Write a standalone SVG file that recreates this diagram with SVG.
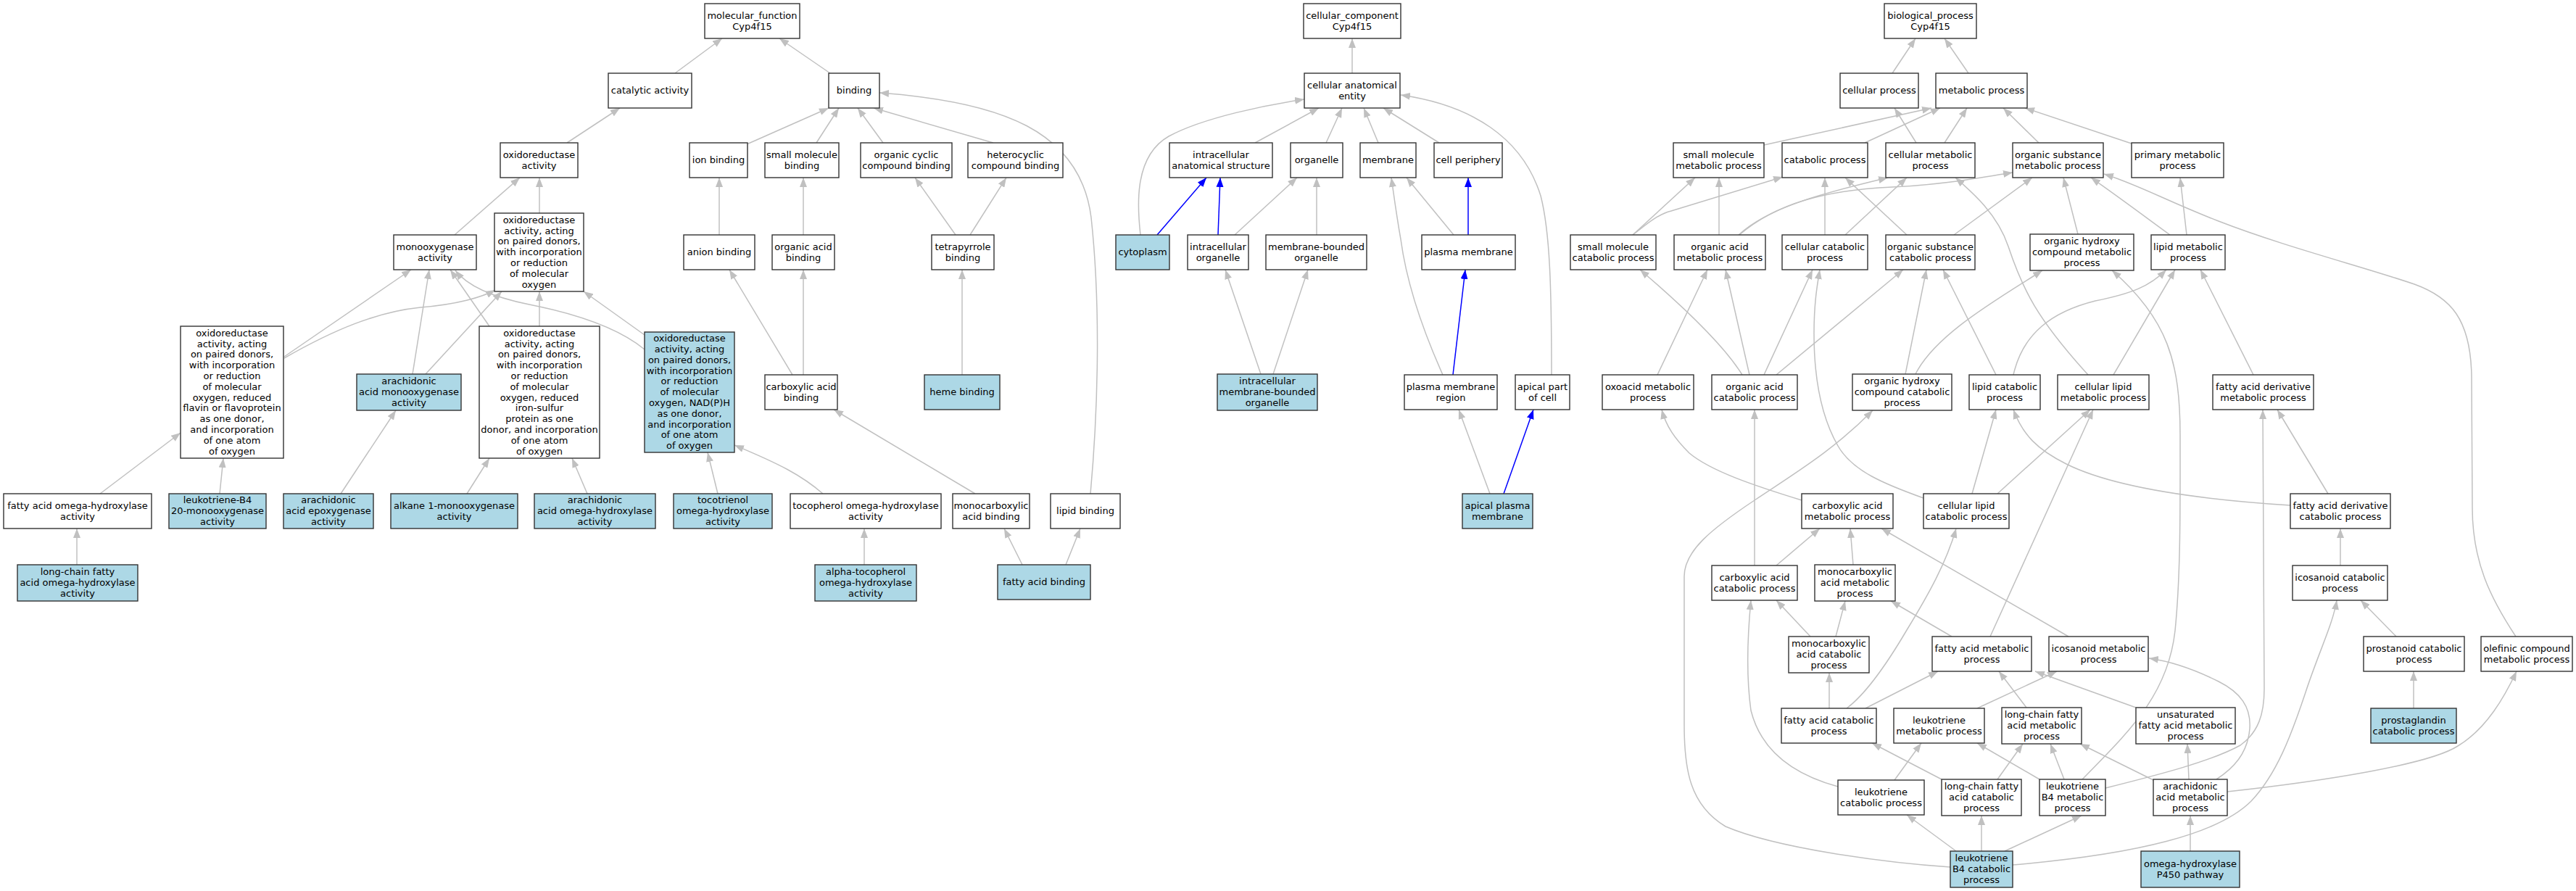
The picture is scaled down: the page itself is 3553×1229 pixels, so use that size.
<svg xmlns="http://www.w3.org/2000/svg" width="3553" height="1229" viewBox="0 0 3553 1229">
<style>
.n rect{fill:#fff;stroke:#333;stroke-width:1.4}
.b rect{fill:#add8e6;stroke:#333;stroke-width:1.4}
text{font-family:"DejaVu Sans",sans-serif;font-size:13px;text-anchor:middle;fill:#000}
.e path{fill:none;stroke:#c0c0c0;stroke-width:1.5;marker-end:url(#ag)}
.e path.bl{stroke:#0000ff;marker-end:url(#ab)}
</style>
<defs>
<marker id="ag" viewBox="0 0 13 10" refX="13" refY="5" markerWidth="13" markerHeight="10" markerUnits="userSpaceOnUse" orient="auto"><path d="M0,0L13,5L0,10z" fill="#c0c0c0"/></marker>
<marker id="ab" viewBox="0 0 13 10" refX="13" refY="5" markerWidth="13" markerHeight="10" markerUnits="userSpaceOnUse" orient="auto"><path d="M0,0L13,5L0,10z" fill="#0000ff"/></marker>
</defs>
<rect width="3553" height="1229" fill="#fff"/>
<g id="edges" class="e">
<path d="M931,101L996,53"/>
<path d="M1145,101L1075,53"/>
<path d="M782,197L855,149"/>
<path d="M1030,199L1143,149"/>
<path d="M1126,197L1157,149"/>
<path d="M1218,197L1183,149"/>
<path d="M1370,197L1205,149"/>
<path d="M1504,681C1515,560 1518,420 1505,300C1490,180 1380,140 1213,128"/>
<path d="M627,324L717,245"/>
<path d="M744,294L744,245"/>
<path d="M992,324L992,245"/>
<path d="M1108,324L1108,245"/>
<path d="M1318,324L1262,245"/>
<path d="M1338,324L1388,245"/>
<path d="M1327,517L1327,372"/>
<path d="M1093,517L1006,372"/>
<path d="M1108,517L1108,372"/>
<path d="M392,492L567,372"/>
<path d="M392,494C460,455 520,430 580,424C630,420 665,410 683,400"/>
<path d="M569,516L592,372"/>
<path d="M587,516L692,402"/>
<path d="M675,450L621,372"/>
<path d="M744,450L744,402"/>
<path d="M889,482C850,450 790,432 730,420C680,410 645,395 628,373"/>
<path d="M889,462L805,402"/>
<path d="M138,681L249,597"/>
<path d="M303,681L308,632"/>
<path d="M470,681L546,566"/>
<path d="M644,681L675,632"/>
<path d="M810,681L789,632"/>
<path d="M990,681L976,624"/>
<path d="M1135,681C1105,655 1075,640 1013,614"/>
<path d="M106,779L106,729"/>
<path d="M1192,779L1192,729"/>
<path d="M1345,681L1150,565"/>
<path d="M1410,779L1385,729"/>
<path d="M1470,779L1490,729"/>
<path d="M1865,101L1865,53"/>
<path d="M1731,197L1819,149"/>
<path d="M1829,197L1851,149"/>
<path d="M1901,197L1881,149"/>
<path d="M1985,197L1908,149"/>
<path d="M1573,324C1568,280 1565,215 1612,188C1660,162 1750,144 1799,137"/>
<path class="bl" d="M1596,324L1664,245"/>
<path class="bl" d="M1680,324L1683,245"/>
<path d="M1703,324L1789,245"/>
<path d="M1816,324L1816,245"/>
<path d="M2005,324L1940,245"/>
<path class="bl" d="M2025,324L2025,245"/>
<path d="M1739,516L1690,372"/>
<path d="M1756,516L1804,372"/>
<path d="M1990,517C1960,450 1940,390 1932,330C1925,290 1922,265 1919,245"/>
<path class="bl" d="M2004,517L2021,372"/>
<path d="M2055,681L2012,565"/>
<path class="bl" d="M2074,681L2115,565"/>
<path d="M2140,517C2140,400 2138,320 2125,270C2100,190 2030,145 1932,131"/>
<path d="M2610,101L2642,53"/>
<path d="M2715,101L2682,53"/>
<path d="M2643,197L2613,149"/>
<path d="M2433,200L2664,149"/>
<path d="M2572,197L2676,149"/>
<path d="M2682,197L2713,149"/>
<path d="M2812,197L2763,149"/>
<path d="M2940,198L2793,149"/>
<path d="M2252,324L2338,245"/>
<path d="M2371,324L2371,245"/>
<path d="M2252,324C2268,312 2285,296 2305,291L2459,244"/>
<path d="M2517,324L2517,245"/>
<path d="M2630,324L2545,245"/>
<path d="M2398,324C2440,285 2520,265 2604,245"/>
<path d="M2399,324C2450,280 2520,262 2610,258C2680,255 2730,245 2776,238"/>
<path d="M2545,324L2630,245"/>
<path d="M2880,517C2810,440 2790,400 2770,340C2755,295 2720,265 2697,245"/>
<path d="M2695,324L2803,245"/>
<path d="M2866,323L2846,245"/>
<path d="M2993,324C2960,300 2920,270 2884,245"/>
<path d="M3470,878C3435,825 3410,775 3410,700L3409,520C3408,440 3380,410 3330,392C3260,368 3150,340 3060,305C2990,278 2950,255 2902,240"/>
<path d="M3016,324L3007,245"/>
<path d="M2403,517C2380,480 2330,430 2262,372"/>
<path d="M2286,517L2355,372"/>
<path d="M2413,517L2380,372"/>
<path d="M2433,517L2500,372"/>
<path d="M2653,687C2600,668 2555,650 2535,615C2512,575 2502,520 2502,460C2502,420 2506,395 2510,372"/>
<path d="M2450,517L2625,372"/>
<path d="M2628,516L2657,372"/>
<path d="M2753,517L2680,372"/>
<path d="M2642,516C2670,460 2760,410 2817,373"/>
<path d="M2872,1075C2935,1010 2990,960 3000,870C3008,790 3007,700 3007,600C3007,500 2990,440 2913,373"/>
<path d="M2777,517C2790,460 2830,430 2890,415C2940,405 2965,395 2988,372"/>
<path d="M2915,517L3000,372"/>
<path d="M3108,517L3035,372"/>
<path d="M2485,690C2420,670 2360,650 2330,625C2310,605 2298,588 2292,565"/>
<path d="M2420,780L2420,565"/>
<path d="M2690,1196C2600,1190 2450,1170 2380,1140C2330,1110 2323,1060 2323,1000L2323,795C2323,760 2360,730 2420,690C2480,650 2530,620 2583,566"/>
<path d="M2720,681L2753,565"/>
<path d="M3159,697C3050,690 2920,675 2850,640C2810,620 2790,600 2777,565"/>
<path d="M2755,681L2883,565"/>
<path d="M2745,878L2887,565"/>
<path d="M2904,1087C2980,1068 3050,1050 3090,1028C3115,1010 3123,985 3123,950L3121,565"/>
<path d="M3211,681L3141,565"/>
<path d="M2450,780L2510,729"/>
<path d="M2556,779L2552,729"/>
<path d="M2853,878L2595,729"/>
<path d="M2547,977C2570,960 2600,920 2630,869C2660,820 2685,775 2698,729"/>
<path d="M3228,780L3228,729"/>
<path d="M2497,878L2450,828"/>
<path d="M2535,1085C2480,1070 2430,1040 2415,980C2408,930 2410,880 2415,828"/>
<path d="M2532,878L2545,829"/>
<path d="M2692,878L2608,829"/>
<path d="M3305,878L3256,828"/>
<path d="M2776,1193C2950,1178 3060,1150 3105,1105C3140,1068 3160,1015 3180,955C3198,900 3218,860 3223,828"/>
<path d="M2523,977L2523,928"/>
<path d="M2573,977L2673,926"/>
<path d="M2795,976L2757,926"/>
<path d="M2946,976L2807,926"/>
<path d="M2727,977L2837,926"/>
<path d="M3057,1075C3080,1060 3100,1040 3103,1005C3105,975 3090,955 3060,940C3030,925 3000,913 2964,908"/>
<path d="M3329,977L3329,926"/>
<path d="M3072,1092C3200,1078 3350,1055 3390,1029C3430,1005 3455,960 3471,926"/>
<path d="M2678,1075L2582,1025"/>
<path d="M2613,1076L2650,1025"/>
<path d="M2813,1075L2727,1025"/>
<path d="M2755,1075L2790,1026"/>
<path d="M2847,1075L2828,1026"/>
<path d="M2970,1076L2869,1026"/>
<path d="M3019,1075L3017,1026"/>
<path d="M2698,1174L2630,1124"/>
<path d="M2733,1174L2733,1125"/>
<path d="M2765,1174L2871,1125"/>
<path d="M3021,1174L3021,1125"/>
</g>
<g id="mf" class="n"><rect x="972" y="5" width="131" height="48"/><text x="1037.5" y="25.8"><tspan x="1037.5">molecular_function</tspan><tspan x="1037.5" dy="14.8">Cyp4f15</tspan></text></g>
<g id="ca" class="n"><rect x="839" y="101" width="115" height="48"/><text x="896.5" y="129.2">catalytic activity</text></g>
<g id="bind" class="n"><rect x="1143" y="101" width="70" height="48"/><text x="1178" y="129.2">binding</text></g>
<g id="oa" class="n"><rect x="690" y="197" width="107" height="48"/><text x="743.5" y="217.8"><tspan x="743.5">oxidoreductase</tspan><tspan x="743.5" dy="14.8">activity</tspan></text></g>
<g id="ion" class="n"><rect x="951" y="197" width="80" height="48"/><text x="991" y="225.2">ion binding</text></g>
<g id="smb" class="n"><rect x="1055" y="197" width="102" height="48"/><text x="1106" y="217.8"><tspan x="1106">small molecule</tspan><tspan x="1106" dy="14.8">binding</tspan></text></g>
<g id="occb" class="n"><rect x="1187" y="197" width="126" height="48"/><text x="1250" y="217.8"><tspan x="1250">organic cyclic</tspan><tspan x="1250" dy="14.8">compound binding</tspan></text></g>
<g id="hcb" class="n"><rect x="1335" y="197" width="131" height="48"/><text x="1400.5" y="217.8"><tspan x="1400.5">heterocyclic</tspan><tspan x="1400.5" dy="14.8">compound binding</tspan></text></g>
<g id="mo" class="n"><rect x="543" y="324" width="114" height="48"/><text x="600" y="344.8"><tspan x="600">monooxygenase</tspan><tspan x="600" dy="14.8">activity</tspan></text></g>
<g id="pd" class="n"><rect x="682" y="294" width="123" height="108"/><text x="743.5" y="307.8"><tspan x="743.5">oxidoreductase</tspan><tspan x="743.5" dy="14.8">activity, acting</tspan><tspan x="743.5" dy="14.8">on paired donors,</tspan><tspan x="743.5" dy="14.8">with incorporation</tspan><tspan x="743.5" dy="14.8">or reduction</tspan><tspan x="743.5" dy="14.8">of molecular</tspan><tspan x="743.5" dy="14.8">oxygen</tspan></text></g>
<g id="anion" class="n"><rect x="943" y="324" width="98" height="48"/><text x="992" y="352.2">anion binding</text></g>
<g id="oab" class="n"><rect x="1065" y="324" width="86" height="48"/><text x="1108" y="344.8"><tspan x="1108">organic acid</tspan><tspan x="1108" dy="14.8">binding</tspan></text></g>
<g id="tetra" class="n"><rect x="1285" y="324" width="86" height="48"/><text x="1328" y="344.8"><tspan x="1328">tetrapyrrole</tspan><tspan x="1328" dy="14.8">binding</tspan></text></g>
<g id="flavin" class="n"><rect x="249" y="450" width="142" height="182"/><text x="320" y="463.8"><tspan x="320">oxidoreductase</tspan><tspan x="320" dy="14.8">activity, acting</tspan><tspan x="320" dy="14.8">on paired donors,</tspan><tspan x="320" dy="14.8">with incorporation</tspan><tspan x="320" dy="14.8">or reduction</tspan><tspan x="320" dy="14.8">of molecular</tspan><tspan x="320" dy="14.8">oxygen, reduced</tspan><tspan x="320" dy="14.8">flavin or flavoprotein</tspan><tspan x="320" dy="14.8">as one donor,</tspan><tspan x="320" dy="14.8">and incorporation</tspan><tspan x="320" dy="14.8">of one atom</tspan><tspan x="320" dy="14.8">of oxygen</tspan></text></g>
<g id="aamo" class="b"><rect x="492" y="516" width="144" height="50"/><text x="564" y="530.4"><tspan x="564">arachidonic</tspan><tspan x="564" dy="14.8">acid monooxygenase</tspan><tspan x="564" dy="14.8">activity</tspan></text></g>
<g id="fes" class="n"><rect x="661" y="450" width="166" height="182"/><text x="744" y="463.8"><tspan x="744">oxidoreductase</tspan><tspan x="744" dy="14.8">activity, acting</tspan><tspan x="744" dy="14.8">on paired donors,</tspan><tspan x="744" dy="14.8">with incorporation</tspan><tspan x="744" dy="14.8">or reduction</tspan><tspan x="744" dy="14.8">of molecular</tspan><tspan x="744" dy="14.8">oxygen, reduced</tspan><tspan x="744" dy="14.8">iron-sulfur</tspan><tspan x="744" dy="14.8">protein as one</tspan><tspan x="744" dy="14.8">donor, and incorporation</tspan><tspan x="744" dy="14.8">of one atom</tspan><tspan x="744" dy="14.8">of oxygen</tspan></text></g>
<g id="nadph" class="b"><rect x="889" y="458" width="124" height="166"/><text x="951" y="471.2"><tspan x="951">oxidoreductase</tspan><tspan x="951" dy="14.8">activity, acting</tspan><tspan x="951" dy="14.8">on paired donors,</tspan><tspan x="951" dy="14.8">with incorporation</tspan><tspan x="951" dy="14.8">or reduction</tspan><tspan x="951" dy="14.8">of molecular</tspan><tspan x="951" dy="14.8">oxygen, NAD(P)H</tspan><tspan x="951" dy="14.8">as one donor,</tspan><tspan x="951" dy="14.8">and incorporation</tspan><tspan x="951" dy="14.8">of one atom</tspan><tspan x="951" dy="14.8">of oxygen</tspan></text></g>
<g id="cab" class="n"><rect x="1055" y="517" width="100" height="48"/><text x="1105" y="537.8"><tspan x="1105">carboxylic acid</tspan><tspan x="1105" dy="14.8">binding</tspan></text></g>
<g id="heme" class="b"><rect x="1275" y="517" width="104" height="48"/><text x="1327" y="545.2">heme binding</text></g>
<g id="faoh" class="n"><rect x="5" y="681" width="204" height="48"/><text x="107" y="701.8"><tspan x="107">fatty acid omega-hydroxylase</tspan><tspan x="107" dy="14.8">activity</tspan></text></g>
<g id="ltb4mo" class="b"><rect x="233" y="681" width="134" height="48"/><text x="300" y="694.4"><tspan x="300">leukotriene-B4</tspan><tspan x="300" dy="14.8">20-monooxygenase</tspan><tspan x="300" dy="14.8">activity</tspan></text></g>
<g id="aaep" class="b"><rect x="391" y="681" width="124" height="48"/><text x="453" y="694.4"><tspan x="453">arachidonic</tspan><tspan x="453" dy="14.8">acid epoxygenase</tspan><tspan x="453" dy="14.8">activity</tspan></text></g>
<g id="alk" class="b"><rect x="539" y="681" width="175" height="48"/><text x="626.5" y="701.8"><tspan x="626.5">alkane 1-monooxygenase</tspan><tspan x="626.5" dy="14.8">activity</tspan></text></g>
<g id="aaoh" class="b"><rect x="737" y="681" width="167" height="48"/><text x="820.5" y="694.4"><tspan x="820.5">arachidonic</tspan><tspan x="820.5" dy="14.8">acid omega-hydroxylase</tspan><tspan x="820.5" dy="14.8">activity</tspan></text></g>
<g id="toco3" class="b"><rect x="929" y="681" width="136" height="48"/><text x="997" y="694.4"><tspan x="997">tocotrienol</tspan><tspan x="997" dy="14.8">omega-hydroxylase</tspan><tspan x="997" dy="14.8">activity</tspan></text></g>
<g id="tocoph" class="n"><rect x="1090" y="681" width="208" height="48"/><text x="1194" y="701.8"><tspan x="1194">tocopherol omega-hydroxylase</tspan><tspan x="1194" dy="14.8">activity</tspan></text></g>
<g id="mcab" class="n"><rect x="1314" y="681" width="106" height="48"/><text x="1367" y="701.8"><tspan x="1367">monocarboxylic</tspan><tspan x="1367" dy="14.8">acid binding</tspan></text></g>
<g id="lipb" class="n"><rect x="1449" y="681" width="96" height="48"/><text x="1497" y="709.2">lipid binding</text></g>
<g id="lcfaoh" class="b"><rect x="24" y="779" width="166" height="50"/><text x="107" y="793.4"><tspan x="107">long-chain fatty</tspan><tspan x="107" dy="14.8">acid omega-hydroxylase</tspan><tspan x="107" dy="14.8">activity</tspan></text></g>
<g id="atoco" class="b"><rect x="1124" y="779" width="140" height="50"/><text x="1194" y="793.4"><tspan x="1194">alpha-tocopherol</tspan><tspan x="1194" dy="14.8">omega-hydroxylase</tspan><tspan x="1194" dy="14.8">activity</tspan></text></g>
<g id="fab" class="b"><rect x="1376" y="779" width="128" height="48"/><text x="1440" y="807.2">fatty acid binding</text></g>
<g id="cc" class="n"><rect x="1798" y="5" width="134" height="48"/><text x="1865" y="25.8"><tspan x="1865">cellular_component</tspan><tspan x="1865" dy="14.8">Cyp4f15</tspan></text></g>
<g id="cae" class="n"><rect x="1799" y="101" width="132" height="48"/><text x="1865" y="121.8"><tspan x="1865">cellular anatomical</tspan><tspan x="1865" dy="14.8">entity</tspan></text></g>
<g id="ias" class="n"><rect x="1613" y="197" width="142" height="48"/><text x="1684" y="217.8"><tspan x="1684">intracellular</tspan><tspan x="1684" dy="14.8">anatomical structure</tspan></text></g>
<g id="org" class="n"><rect x="1780" y="197" width="72" height="48"/><text x="1816" y="225.2">organelle</text></g>
<g id="mem" class="n"><rect x="1876" y="197" width="77" height="48"/><text x="1914.5" y="225.2">membrane</text></g>
<g id="cp" class="n"><rect x="1978" y="197" width="94" height="48"/><text x="2025" y="225.2">cell periphery</text></g>
<g id="cyto" class="b"><rect x="1539" y="324" width="74" height="48"/><text x="1576" y="352.2">cytoplasm</text></g>
<g id="io" class="n"><rect x="1638" y="324" width="84" height="48"/><text x="1680" y="344.8"><tspan x="1680">intracellular</tspan><tspan x="1680" dy="14.8">organelle</tspan></text></g>
<g id="mbo" class="n"><rect x="1746" y="324" width="139" height="48"/><text x="1815.5" y="344.8"><tspan x="1815.5">membrane-bounded</tspan><tspan x="1815.5" dy="14.8">organelle</tspan></text></g>
<g id="pm" class="n"><rect x="1961" y="324" width="129" height="48"/><text x="2025.5" y="352.2">plasma membrane</text></g>
<g id="imbo" class="b"><rect x="1679" y="516" width="138" height="50"/><text x="1748" y="530.4"><tspan x="1748">intracellular</tspan><tspan x="1748" dy="14.8">membrane-bounded</tspan><tspan x="1748" dy="14.8">organelle</tspan></text></g>
<g id="pmr" class="n"><rect x="1937" y="517" width="128" height="48"/><text x="2001" y="537.8"><tspan x="2001">plasma membrane</tspan><tspan x="2001" dy="14.8">region</tspan></text></g>
<g id="apc" class="n"><rect x="2090" y="517" width="75" height="48"/><text x="2127.5" y="537.8"><tspan x="2127.5">apical part</tspan><tspan x="2127.5" dy="14.8">of cell</tspan></text></g>
<g id="apm" class="b"><rect x="2017" y="681" width="97" height="48"/><text x="2065.5" y="701.8"><tspan x="2065.5">apical plasma</tspan><tspan x="2065.5" dy="14.8">membrane</tspan></text></g>
<g id="bp" class="n"><rect x="2599" y="5" width="127" height="48"/><text x="2662.5" y="25.8"><tspan x="2662.5">biological_process</tspan><tspan x="2662.5" dy="14.8">Cyp4f15</tspan></text></g>
<g id="cpr" class="n"><rect x="2538" y="101" width="108" height="48"/><text x="2592" y="129.2">cellular process</text></g>
<g id="mp" class="n"><rect x="2670" y="101" width="126" height="48"/><text x="2733" y="129.2">metabolic process</text></g>
<g id="smmp" class="n"><rect x="2308" y="197" width="125" height="48"/><text x="2370.5" y="217.8"><tspan x="2370.5">small molecule</tspan><tspan x="2370.5" dy="14.8">metabolic process</tspan></text></g>
<g id="catp" class="n"><rect x="2458" y="197" width="118" height="48"/><text x="2517" y="225.2">catabolic process</text></g>
<g id="cmp" class="n"><rect x="2601" y="197" width="123" height="48"/><text x="2662.5" y="217.8"><tspan x="2662.5">cellular metabolic</tspan><tspan x="2662.5" dy="14.8">process</tspan></text></g>
<g id="osmp" class="n"><rect x="2776" y="197" width="125" height="48"/><text x="2838.5" y="217.8"><tspan x="2838.5">organic substance</tspan><tspan x="2838.5" dy="14.8">metabolic process</tspan></text></g>
<g id="pmp" class="n"><rect x="2940" y="197" width="127" height="48"/><text x="3003.5" y="217.8"><tspan x="3003.5">primary metabolic</tspan><tspan x="3003.5" dy="14.8">process</tspan></text></g>
<g id="smcp" class="n"><rect x="2166" y="324" width="118" height="48"/><text x="2225" y="344.8"><tspan x="2225">small molecule</tspan><tspan x="2225" dy="14.8">catabolic process</tspan></text></g>
<g id="oamp" class="n"><rect x="2309" y="324" width="126" height="48"/><text x="2372" y="344.8"><tspan x="2372">organic acid</tspan><tspan x="2372" dy="14.8">metabolic process</tspan></text></g>
<g id="ccp" class="n"><rect x="2458" y="324" width="118" height="48"/><text x="2517" y="344.8"><tspan x="2517">cellular catabolic</tspan><tspan x="2517" dy="14.8">process</tspan></text></g>
<g id="oscp" class="n"><rect x="2601" y="324" width="123" height="48"/><text x="2662.5" y="344.8"><tspan x="2662.5">organic substance</tspan><tspan x="2662.5" dy="14.8">catabolic process</tspan></text></g>
<g id="ohcmp" class="n"><rect x="2800" y="323" width="143" height="50"/><text x="2871.5" y="337.4"><tspan x="2871.5">organic hydroxy</tspan><tspan x="2871.5" dy="14.8">compound metabolic</tspan><tspan x="2871.5" dy="14.8">process</tspan></text></g>
<g id="lmp" class="n"><rect x="2967" y="324" width="102" height="48"/><text x="3018" y="344.8"><tspan x="3018">lipid metabolic</tspan><tspan x="3018" dy="14.8">process</tspan></text></g>
<g id="oxmp" class="n"><rect x="2210" y="517" width="126" height="48"/><text x="2273" y="537.8"><tspan x="2273">oxoacid metabolic</tspan><tspan x="2273" dy="14.8">process</tspan></text></g>
<g id="oacp" class="n"><rect x="2361" y="517" width="118" height="48"/><text x="2420" y="537.8"><tspan x="2420">organic acid</tspan><tspan x="2420" dy="14.8">catabolic process</tspan></text></g>
<g id="ohccp" class="n"><rect x="2555" y="516" width="137" height="50"/><text x="2623.5" y="530.4"><tspan x="2623.5">organic hydroxy</tspan><tspan x="2623.5" dy="14.8">compound catabolic</tspan><tspan x="2623.5" dy="14.8">process</tspan></text></g>
<g id="lcp" class="n"><rect x="2716" y="517" width="98" height="48"/><text x="2765" y="537.8"><tspan x="2765">lipid catabolic</tspan><tspan x="2765" dy="14.8">process</tspan></text></g>
<g id="clmp" class="n"><rect x="2838" y="517" width="126" height="48"/><text x="2901" y="537.8"><tspan x="2901">cellular lipid</tspan><tspan x="2901" dy="14.8">metabolic process</tspan></text></g>
<g id="fadmp" class="n"><rect x="3052" y="517" width="139" height="48"/><text x="3121.5" y="537.8"><tspan x="3121.5">fatty acid derivative</tspan><tspan x="3121.5" dy="14.8">metabolic process</tspan></text></g>
<g id="camp" class="n"><rect x="2485" y="681" width="126" height="48"/><text x="2548" y="701.8"><tspan x="2548">carboxylic acid</tspan><tspan x="2548" dy="14.8">metabolic process</tspan></text></g>
<g id="clcp" class="n"><rect x="2653" y="681" width="118" height="48"/><text x="2712" y="701.8"><tspan x="2712">cellular lipid</tspan><tspan x="2712" dy="14.8">catabolic process</tspan></text></g>
<g id="fadcp" class="n"><rect x="3159" y="681" width="138" height="48"/><text x="3228" y="701.8"><tspan x="3228">fatty acid derivative</tspan><tspan x="3228" dy="14.8">catabolic process</tspan></text></g>
<g id="cacp" class="n"><rect x="2361" y="780" width="118" height="48"/><text x="2420" y="800.8"><tspan x="2420">carboxylic acid</tspan><tspan x="2420" dy="14.8">catabolic process</tspan></text></g>
<g id="mcamp" class="n"><rect x="2503" y="779" width="111" height="50"/><text x="2558.5" y="793.4"><tspan x="2558.5">monocarboxylic</tspan><tspan x="2558.5" dy="14.8">acid metabolic</tspan><tspan x="2558.5" dy="14.8">process</tspan></text></g>
<g id="icp" class="n"><rect x="3162" y="780" width="131" height="48"/><text x="3227.5" y="800.8"><tspan x="3227.5">icosanoid catabolic</tspan><tspan x="3227.5" dy="14.8">process</tspan></text></g>
<g id="mcacp" class="n"><rect x="2467" y="878" width="111" height="50"/><text x="2522.5" y="892.4"><tspan x="2522.5">monocarboxylic</tspan><tspan x="2522.5" dy="14.8">acid catabolic</tspan><tspan x="2522.5" dy="14.8">process</tspan></text></g>
<g id="famp" class="n"><rect x="2665" y="878" width="137" height="48"/><text x="2733.5" y="898.8"><tspan x="2733.5">fatty acid metabolic</tspan><tspan x="2733.5" dy="14.8">process</tspan></text></g>
<g id="imp" class="n"><rect x="2826" y="878" width="137" height="48"/><text x="2894.5" y="898.8"><tspan x="2894.5">icosanoid metabolic</tspan><tspan x="2894.5" dy="14.8">process</tspan></text></g>
<g id="pcp" class="n"><rect x="3260" y="878" width="139" height="48"/><text x="3329.5" y="898.8"><tspan x="3329.5">prostanoid catabolic</tspan><tspan x="3329.5" dy="14.8">process</tspan></text></g>
<g id="ocmp" class="n"><rect x="3422" y="878" width="126" height="48"/><text x="3485" y="898.8"><tspan x="3485">olefinic compound</tspan><tspan x="3485" dy="14.8">metabolic process</tspan></text></g>
<g id="facp" class="n"><rect x="2457" y="977" width="131" height="48"/><text x="2522.5" y="997.8"><tspan x="2522.5">fatty acid catabolic</tspan><tspan x="2522.5" dy="14.8">process</tspan></text></g>
<g id="ltmp" class="n"><rect x="2612" y="977" width="125" height="48"/><text x="2674.5" y="997.8"><tspan x="2674.5">leukotriene</tspan><tspan x="2674.5" dy="14.8">metabolic process</tspan></text></g>
<g id="lcfamp" class="n"><rect x="2761" y="976" width="110" height="50"/><text x="2816" y="990.4"><tspan x="2816">long-chain fatty</tspan><tspan x="2816" dy="14.8">acid metabolic</tspan><tspan x="2816" dy="14.8">process</tspan></text></g>
<g id="ufamp" class="n"><rect x="2946" y="976" width="137" height="50"/><text x="3014.5" y="990.4"><tspan x="3014.5">unsaturated</tspan><tspan x="3014.5" dy="14.8">fatty acid metabolic</tspan><tspan x="3014.5" dy="14.8">process</tspan></text></g>
<g id="pgcp" class="b"><rect x="3270" y="977" width="118" height="48"/><text x="3329" y="997.8"><tspan x="3329">prostaglandin</tspan><tspan x="3329" dy="14.8">catabolic process</tspan></text></g>
<g id="ltcp" class="n"><rect x="2535" y="1076" width="119" height="48"/><text x="2594.5" y="1096.8"><tspan x="2594.5">leukotriene</tspan><tspan x="2594.5" dy="14.8">catabolic process</tspan></text></g>
<g id="lcfacp" class="n"><rect x="2678" y="1075" width="110" height="50"/><text x="2733" y="1089.4"><tspan x="2733">long-chain fatty</tspan><tspan x="2733" dy="14.8">acid catabolic</tspan><tspan x="2733" dy="14.8">process</tspan></text></g>
<g id="ltb4mp" class="n"><rect x="2813" y="1075" width="91" height="50"/><text x="2858.5" y="1089.4"><tspan x="2858.5">leukotriene</tspan><tspan x="2858.5" dy="14.8">B4 metabolic</tspan><tspan x="2858.5" dy="14.8">process</tspan></text></g>
<g id="aamp" class="n"><rect x="2970" y="1075" width="102" height="50"/><text x="3021" y="1089.4"><tspan x="3021">arachidonic</tspan><tspan x="3021" dy="14.8">acid metabolic</tspan><tspan x="3021" dy="14.8">process</tspan></text></g>
<g id="ltb4cp" class="b"><rect x="2690" y="1174" width="86" height="50"/><text x="2733" y="1188.4"><tspan x="2733">leukotriene</tspan><tspan x="2733" dy="14.8">B4 catabolic</tspan><tspan x="2733" dy="14.8">process</tspan></text></g>
<g id="ohp450" class="b"><rect x="2953" y="1174" width="136" height="50"/><text x="3021" y="1195.8"><tspan x="3021">omega-hydroxylase</tspan><tspan x="3021" dy="14.8">P450 pathway</tspan></text></g>
</svg>
